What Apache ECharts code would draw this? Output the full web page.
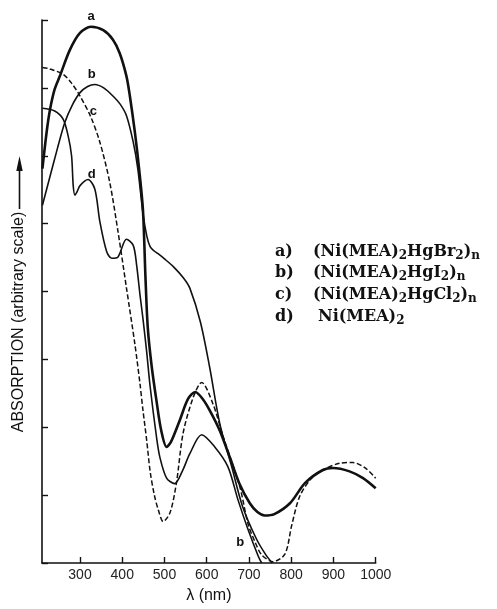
<!DOCTYPE html>
<html><head><meta charset="utf-8">
<script src="https://cdn.jsdelivr.net/npm/echarts@6/dist/echarts.min.js"></script>
<style>html,body{margin:0;padding:0;background:#fff;}#c{width:497px;height:609px;}</style>
</head><body><div id="c"></div>
<script>
// ---- data (wavelength nm, absorption arbitrary units) ----
const xTicks = [300, 400, 500, 600, 700, 800, 900, 1000];
const curveA = [[211,5.81],[221,6.35],[229,6.68],[240,6.98],[252,7.17],[276,7.56],[300,7.81],[326,7.90],[355,7.85],[378,7.71],[394,7.51],[410,7.17],[418,6.88],[430,6.34],[440,5.80],[449,5.20],[455,4.20],[460.5,3.46],[470,2.88],[481.5,2.37],[492,1.96],[505,1.71],[515,1.78],[536,2.10],[556,2.42],[573,2.52],[590,2.42],[607,2.25],[631,1.95],[655,1.55],[678,1.16],[702,0.88],[720,0.75],[737,0.70],[760,0.72],[797,0.88],[833,1.18],[875,1.37],[899,1.40],[938,1.35],[970,1.25],[1000,1.10]];
const curveB = [[211,5.27],[230,5.72],[247,6.12],[264,6.49],[282,6.75],[300,6.93],[318,7.02],[335,7.05],[356,7.00],[378,6.88],[395,6.76],[410,6.59],[426,6.20],[437,5.80],[449,5.15],[458,4.82],[466,4.66],[475,4.60],[484,4.56],[500,4.48],[522,4.36],[545,4.20],[560,4.05],[585,3.55],[607,2.88],[631,2.05],[659,1.42],[685,0.83],[718,0.35],[740,0.12],[755,0.0]];
const curveC = [[211,7.30],[228,7.28],[260,7.20],[280,7.07],[300,6.88],[325,6.58],[347,6.20],[370,5.62],[390,4.88],[410,4.05],[430,3.22],[442,2.64],[449,2.25],[458,1.80],[466,1.35],[476,1.00],[485,0.79],[497,0.61],[513,0.74],[528,1.17],[544,1.91],[568,2.44],[588,2.66],[615,2.34],[639,1.86],[678,1.13],[698,0.57],[715,0.30],[730,0.12],[757,0.02],[785,0.13],[801,0.55],[820,0.98],[848,1.25],[875,1.37],[915,1.47],[946,1.48],[975,1.40],[1000,1.25]];
const curveD = [[211,6.70],[240,6.66],[260,6.54],[272,6.29],[280,6.00],[284,5.55],[288,5.42],[293,5.47],[300,5.56],[319,5.65],[335,5.51],[347,5.03],[363,4.59],[375,4.49],[390,4.51],[410,4.77],[426,4.68],[434,4.39],[442,3.95],[449,3.60],[458,3.10],[466,2.60],[481,1.86],[489,1.56],[505,1.25],[524,1.17],[542,1.35],[560,1.61],[588,1.89],[619,1.71],[650,1.42],[674,0.93],[698,0.49],[722,0.10],[730,0.0]];
const curveLetters = ['a', 'b', 'c', 'd', 'b'];
const legendLetters = ['a)', 'b)', 'c)', 'd)'];
const legendFormulas = ['(Ni(MEA){s|2}HgBr{s|2}){s|n}', '(Ni(MEA){s|2}HgI{s|2}){s|n}', '(Ni(MEA){s|2}HgCl{s|2}){s|n}', 'Ni(MEA){s|2}'];
const yAxisTitle = 'ABSORPTION (arbitrary scale)';
const xAxisTitle = 'λ (nm)';

// ---- chart ----
const INK = '#111';
const chart = echarts.init(document.getElementById('c'), null, {renderer: 'canvas'});
function lineSeries(data, width, type) {
  return {type: 'line', data: data, showSymbol: false, smooth: 0.3,
    lineStyle: {color: INK, width: width, type: type || 'solid'}, animation: false, silent: true};
}
const option = {
  backgroundColor: '#fff',
  animation: false,
  grid: {left: 42, top: 20, width: 333.7, height: 547},
  xAxis: {
    type: 'value', min: 210, max: 1000,
    axisLine: {show: true, lineStyle: {color: INK, width: 1.6}},
    axisTick: {show: true, inside: true, length: 6, customValues: xTicks, lineStyle: {color: INK, width: 1.4}},
    axisLabel: {customValues: xTicks, color: '#222', fontSize: 14, margin: 5, fontFamily: 'Liberation Sans',
      formatter: function (v) { return String(v); }},
    splitLine: {show: false},
    name: xAxisTitle, nameLocation: 'middle', nameGap: 25,
    nameTextStyle: {color: INK, fontSize: 16, fontFamily: 'Liberation Sans'}
  },
  yAxis: {
    type: 'value', min: 0, max: 8, interval: 1,
    axisLine: {show: true, lineStyle: {color: INK, width: 1.6}},
    axisTick: {show: true, inside: true, length: 6, lineStyle: {color: INK, width: 1.4}},
    axisLabel: {show: false},
    splitLine: {show: false}
  },
  series: [
    lineSeries(curveA, 2.6),
    lineSeries(curveB, 1.6),
    lineSeries(curveC, 1.5, [5, 2.5]),
    lineSeries(curveD, 1.6)
  ]
};
chart.setOption(option);

// annotations
const labelAnchors = [[326, 8.05], [328, 7.20], [331.5, 6.66], [328, 5.72], [679, 0.30]];
const graphics = [];
curveLetters.forEach(function (t, i) {
  const p = chart.convertToPixel({gridIndex: 0}, labelAnchors[i]);
  graphics.push({type: 'text', x: p[0], y: p[1], style: {text: t, fill: INK, fontSize: 13, fontWeight: 'bold',
    fontFamily: 'Liberation Sans', align: 'center', verticalAlign: 'middle'}});
});
// y-axis title with arrow
graphics.push({type: 'text', x: 18.5, y: 322, rotation: Math.PI / 2,
  style: {text: yAxisTitle, fill: INK, fontSize: 16, fontFamily: 'Liberation Sans', align: 'center', verticalAlign: 'middle'}});
graphics.push({type: 'line', shape: {x1: 19.5, y1: 209, x2: 19.5, y2: 168}, style: {stroke: INK, lineWidth: 1.6}});
graphics.push({type: 'polygon', shape: {points: [[19.5, 156], [16.3, 171], [22.7, 171]]}, style: {fill: INK}});
// legend text block
const rowY = [251.7, 273.3, 295, 316.7];
legendLetters.forEach(function (t, i) {
  graphics.push({type: 'text', x: 275, y: rowY[i], style: {text: t, fill: INK, fontSize: 16, fontWeight: 'bold',
    fontFamily: 'DejaVu Serif', align: 'left', verticalAlign: 'middle'}});
  graphics.push({type: 'text', x: i === 3 ? 318 : 313, y: rowY[i], style: {text: legendFormulas[i], fill: INK, fontSize: 16,
    fontWeight: 'bold', fontFamily: 'DejaVu Serif', align: 'left', verticalAlign: 'middle', lineHeight: 20,
    rich: {s: {fontSize: 12, fontWeight: 'bold', fontFamily: 'DejaVu Serif', fill: INK, verticalAlign: 'bottom', lineHeight: 12}}}});
});
chart.setOption({graphic: graphics});
</script>
</body></html>
